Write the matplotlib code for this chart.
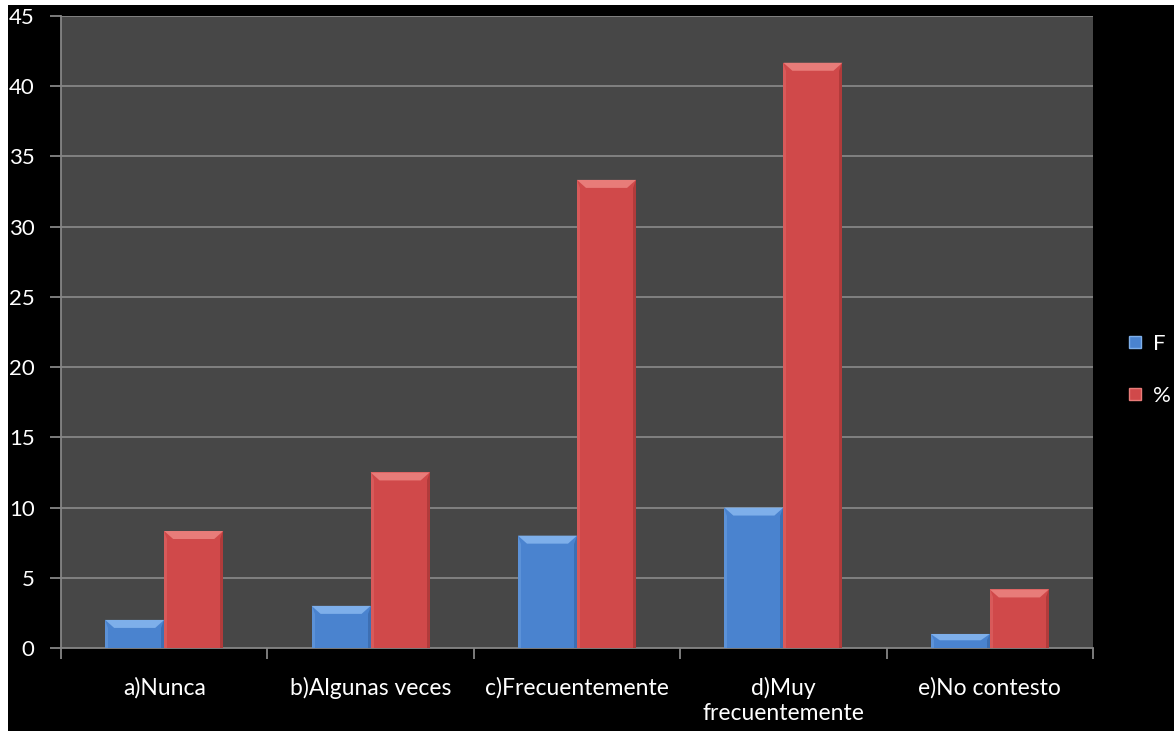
import matplotlib
matplotlib.use("Agg")
import matplotlib.pyplot as plt
import numpy as np
from matplotlib.patches import Rectangle, Polygon
from matplotlib.lines import Line2D

categories = ["a)Nunca", "b)Algunas veces", "c)Frecuentemente", "d)Muy\nfrecuentemente", "e)No contesto"]
f_values = [2, 3, 8, 10, 1]
pct_values = [8.33, 12.5, 33.33, 41.67, 4.17]
series_names = ["F", "%"]
yticks = [0, 5, 10, 15, 20, 25, 30, 35, 40, 45]

plt.rcParams['font.family'] = ['Lato', 'DejaVu Sans']

W, H = 1174, 731
fig = plt.figure(figsize=(W / 100, H / 100), dpi=100, facecolor="white")
# black chart area (white strip at top/left like the reference screenshot)
fig.patches.append(Rectangle((8 / W, 0), 1 - 8 / W, 1 - 5 / H, transform=fig.transFigure,
                             facecolor="black", edgecolor="none", zorder=-10))

ax = fig.add_axes([61 / W, (H - 648) / H, (1093 - 61) / W, (648 - 16) / H])
ax.set_zorder(2)
ax.set_facecolor("#474747")
ax.set_xlim(-0.5, len(categories) - 0.5)
ax.set_ylim(0, 45)

for y in yticks[1:]:
    ax.axhline(y, color="#868686", lw=1.3, zorder=1)

bw = 0.286
styles = [
    dict(body="#4A83CF", top="#7EAFEA", side="#3D6FB3"),
    dict(body="#D0494A", top="#E87C79", side="#B13B3B"),
]

px_y = 45 / (648 - 16)
px_x = 5 / (1093 - 61)

def bevel_bar(xc, val, st):
    x0, x1 = xc - bw / 2, xc + bw / 2
    ax.add_patch(Rectangle((x0, 0), bw, val, facecolor=st["body"], edgecolor="none", zorder=3))
    bh = min(8 * px_y, val * 0.45)
    bx = 9 * px_x
    # top bevel face
    ax.add_patch(Polygon([(x0, val), (x1, val), (x1 - bx, val - bh), (x0 + bx, val - bh)],
                         closed=True, facecolor=st["top"], edgecolor="none", zorder=4))
    # right side darker strip
    ax.add_patch(Polygon([(x1, val), (x1, 0), (x1 - 3 * px_x, 0), (x1 - 3 * px_x, val - bh)],
                         closed=True, facecolor=st["side"], edgecolor="none", zorder=4))
    # left side slightly lighter strip
    ax.add_patch(Polygon([(x0, val), (x0, 0), (x0 + 3 * px_x, 0), (x0 + 3 * px_x, val - bh)],
                         closed=True, facecolor=st["top"], alpha=0.35, edgecolor="none", zorder=4))

x = np.arange(len(categories))
for i in range(len(categories)):
    bevel_bar(x[i] - bw / 2, f_values[i], styles[0])
    bevel_bar(x[i] + bw / 2, pct_values[i], styles[1])

for s in ["top", "right"]:
    ax.spines[s].set_visible(False)
ax.spines["left"].set_color("#868686")
ax.spines["bottom"].set_color("#868686")
ax.spines["left"].set_linewidth(1.3)
ax.spines["bottom"].set_linewidth(1.3)

ax.set_yticks(yticks)
ax.set_yticklabels([str(v) for v in yticks])
ax.tick_params(axis="y", colors="#868686", length=8, width=1.3, pad=11, labelsize=16, labelcolor="white")

ax.set_xticks(x)
ax.set_xticklabels(categories, linespacing=1.2)
ax.tick_params(axis="x", which="major", length=0, pad=21, labelsize=16.5, labelcolor="white")
ax.set_xticks(np.arange(-0.5, len(categories), 1), minor=True)
ax.tick_params(axis="x", which="minor", colors="#868686", length=8, width=1.3)

handles = [Line2D([], [], marker="s", linestyle="none", markersize=9,
                  markerfacecolor=styles[k]["body"], markeredgecolor=styles[k]["top"], markeredgewidth=1)
           for k in range(2)]
leg = fig.legend(handles, series_names, loc="center left", bbox_to_anchor=(1106 / W, 1 - 370 / H),
                 frameon=False, fontsize=16, labelcolor="white", handlelength=0.8,
                 handletextpad=0.4, labelspacing=1.45)

fig.savefig("out.png", dpi=100, facecolor=fig.get_facecolor())
